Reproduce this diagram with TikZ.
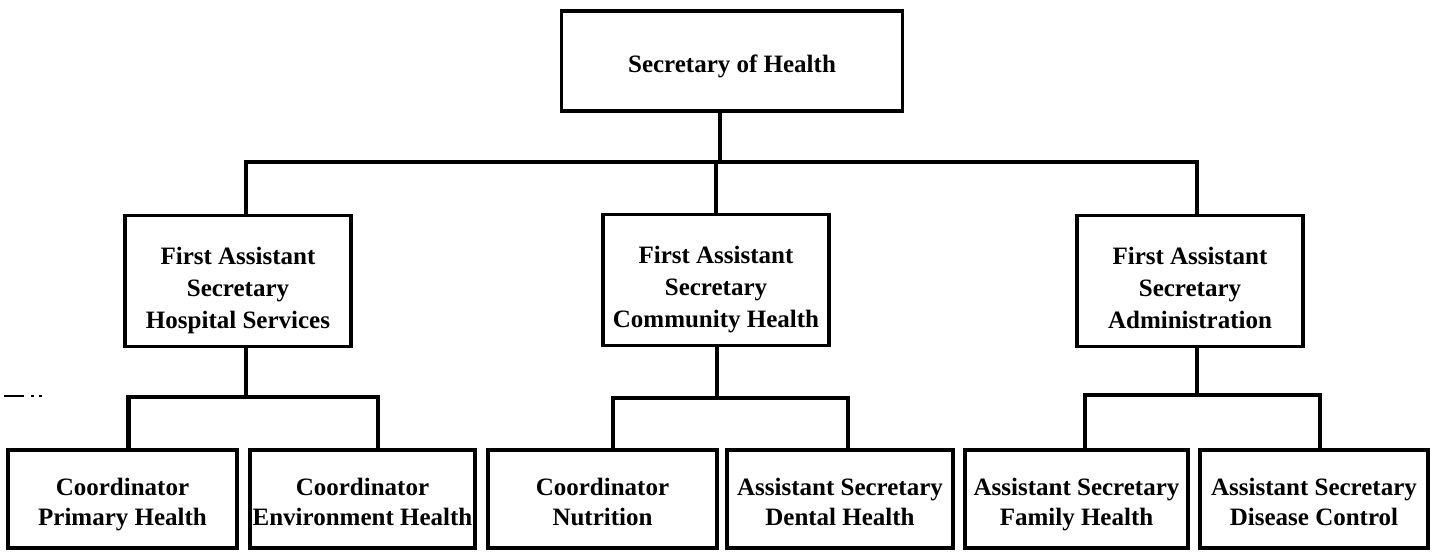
\documentclass[tikz,border=0pt]{standalone}
\usepackage{fontspec}
\setmainfont{Liberation Serif}
\newcommand{\ls}{\strut}
\begin{document}
\begin{tikzpicture}[x=0.5pt,y=-0.5pt,
  box/.style={draw,line width=1.6pt,rectangle,inner sep=0pt},
  midbox/.style={box,minimum width=113pt,minimum height=65.5pt},
  lowbox/.style={box,minimum height=49pt},
  txt/.style={inner sep=0pt,align=center,font=\bfseries\fontsize{12.5}{15}\selectfont},
  midtxt/.style={txt,yshift=-4.5pt,font=\bfseries\fontsize{12.5}{16}\selectfont},
  lowtxt/.style={txt,yshift=-2.5pt},
  conn/.style={line width=2.2pt}]
\useasboundingbox (0,0) rectangle (1443,551);

% top of the chart
\node[box,minimum width=170.5pt,minimum height=50pt] (top) at (732,61) {};
\node[txt,yshift=-3pt] (topt) at (top) {\ls Secretary of Health\ls};

% first assistant secretaries
\node[midbox] (mid1) at (238,281) {};
\node[midbox] (mid2) at (716,280) {};
\node[midbox] (mid3) at (1190,281) {};
\node[midtxt] (mid1t) at (mid1) {\ls First Assistant\\Secretary\\Hospital Services\ls};
\node[midtxt] (mid2t) at (mid2) {\ls First Assistant\\Secretary\\Community Health\ls};
\node[midtxt] (mid3t) at (mid3) {\ls First Assistant\\Secretary\\Administration\ls};

% coordinators and assistant secretaries
\node[lowbox,minimum width=114.5pt] (b1) at (122.5,499) {};
\node[lowbox,minimum width=112.5pt] (b2) at (362.5,499) {};
\node[lowbox,minimum width=114.5pt] (b3) at (602.5,499) {};
\node[lowbox,minimum width=113pt] (b4) at (840,499) {};
\node[lowbox,minimum width=111.5pt] (b5) at (1076.5,499) {};
\node[lowbox,minimum width=114pt] (b6) at (1314,499) {};
\node[lowtxt] (b1t) at (b1) {\ls Coordinator\\Primary Health\ls};
\node[lowtxt] (b2t) at (b2) {\ls Coordinator\\Environment Health\ls};
\node[lowtxt] (b3t) at (b3) {\ls Coordinator\\Nutrition\ls};
\node[lowtxt] (b4t) at (b4) {\ls Assistant Secretary\\Dental Health\ls};
\node[lowtxt] (b5t) at (b5) {\ls Assistant Secretary\\Family Health\ls};
\node[lowtxt] (b6t) at (b6) {\ls Assistant Secretary\\Disease Control\ls};

% bus lines
\coordinate (bus0) at (720,162);
\coordinate (bus1) at (246,397);
\coordinate (bus2) at (717,398);
\coordinate (bus3) at (1197,395);

% top level connectors
\draw[conn] ([xshift=-6pt]top.south) -- (bus0);
\draw[conn] ([xshift=4pt]mid1.north) |- (bus0) -| ([xshift=3.5pt]mid3.north);
\draw[conn] (bus0) -| (mid2.north);

% lower level connectors
\draw[conn] ([xshift=4pt]mid1.south) -- (bus1);
\draw[conn] ([xshift=3pt]b1.north) |- (bus1) -| ([xshift=7.75pt]b2.north);
\draw[conn] ([xshift=0.5pt]mid2.south) -- (bus2);
\draw[conn] ([xshift=5.25pt]b3.north) |- (bus2) -| ([xshift=4pt]b4.north);
\draw[conn] ([xshift=3.5pt]mid3.south) -- (bus3);
\draw[conn] ([xshift=4.25pt]b5.north) |- (bus3) -| ([xshift=3pt]b6.north);

% stray pen strokes at the left edge
\draw[line width=1.2pt] (4,396) -- (24,396);
\draw[line width=0.8pt] (31,396) -- (34,396) (39,396) -- (42,396);
\end{tikzpicture}
\end{document}
